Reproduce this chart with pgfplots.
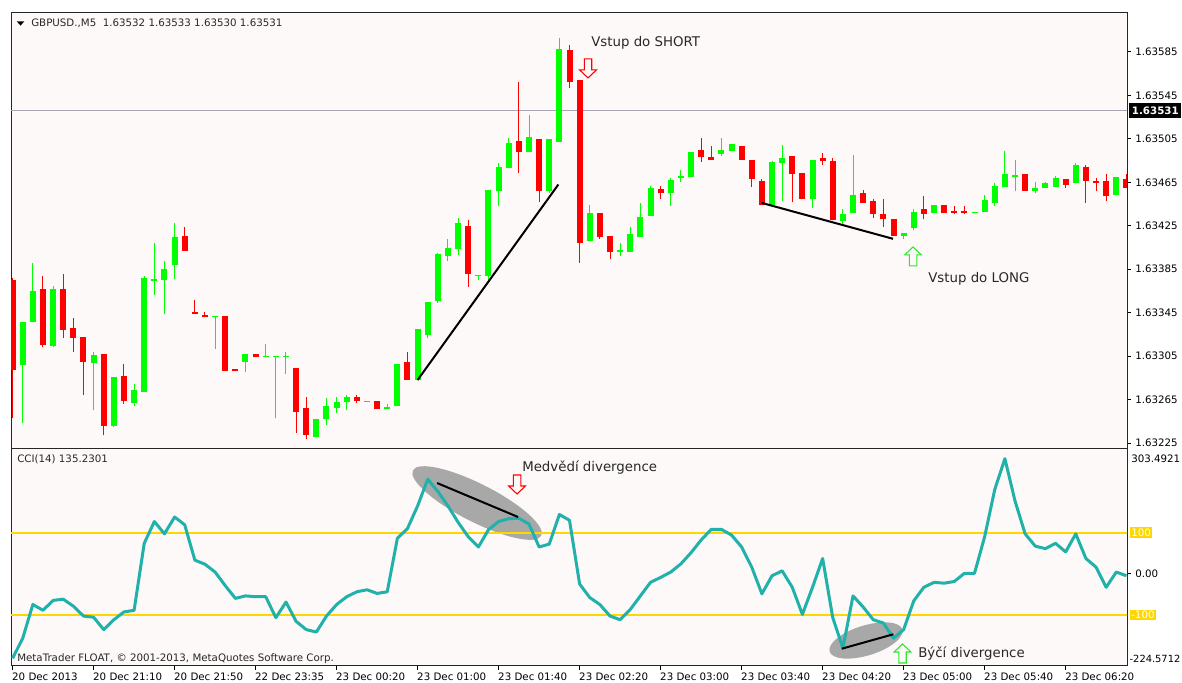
\documentclass[border=0pt]{standalone}
\usepackage{pgfplots}
\pgfplotsset{compat=1.18}
\usepackage{pgfplotstable}
\usepackage{fontspec}
\setmainfont{DejaVu Sans}
\definecolor{bg}{RGB}{253,249,248}
\definecolor{bull}{RGB}{0,255,0}
\definecolor{bear}{RGB}{255,0,0}
\definecolor{ccic}{RGB}{32,178,170}
\definecolor{lvl}{RGB}{255,215,0}
\definecolor{bid}{RGB}{165,165,180}
\definecolor{ell}{RGB}{168,168,168}
\definecolor{upg}{RGB}{40,235,40}
\definecolor{txt}{RGB}{40,40,40}
\newcommand{\uifont}{\fontsize{7.7pt}{9pt}\selectfont}
\newcommand{\comicfont}{\fontsize{10pt}{12pt}\selectfont}
\newcommand{\dnarrow}[3]{\draw[#1, line width=0.8pt] (axis cs:#2,#3) -- ++(-6.3pt,6pt) -- ++(3.5pt,0pt) -- ++(0pt,8.25pt) -- ++(5.6pt,0pt) -- ++(0pt,-8.25pt) -- ++(3.5pt,0pt) -- cycle;}
\newcommand{\uparr}[3]{\draw[#1, line width=0.8pt] (axis cs:#2,#3) -- ++(-6.3pt,-6pt) -- ++(3.5pt,0pt) -- ++(0pt,-8.25pt) -- ++(5.6pt,0pt) -- ++(0pt,8.25pt) -- ++(3.5pt,0pt) -- cycle;}

% prices in units of 0.00001 above 1.63000
\pgfplotstableread{
i o h l c
1 297 336 243 336
2 336 391 336 365
4 314 370 313 367
8 299 309 255 306
10 241 286 240 286
12 262 279 259 274
13 272 379 272 377
14 374 409 361 376
15 375 393 344 385
16 389 428 376 415
20 341 342 312 342
23 300 307 290 307
25 304 316 304 305
26 304 305 248 305
27 304 309 289 305
30 231 247 231 247
31 247 266 242 259
32 257 267 253 263
33 263 269 255 267
35 263 264 263 264
37 256 261 256 258
38 259 298 259 298
40 283 330 283 330
41 324 355 322 355
42 356 400 354 399
43 397 413 393 405
44 404 432 398 428
46 379 380 375 380
47 379 458 375 458
48 457 483 443 479
49 478 506 478 501
51 493 527 493 507
53 457 505 455 505
54 502 598 502 588
57 411 444 411 437
60 401 409 397 403
61 401 424 401 417
62 415 446 415 433
63 434 462 434 460
65 455 469 443 467
66 469 476 465 471
67 470 493 470 493
70 491 506 489 495
71 494 500 494 500
75 444 485 444 484
76 483 499 448 487
79 450 486 441 486
82 429 440 427 436
83 437 490 437 453
88 416 418 413 418
89 423 440 421 438
91 437 444 437 444
95 437 438 437 438
96 438 453 438 449
97 446 464 443 462
98 461 494 461 473
99 470 486 457 472
101 457 465 455 460
102 460 465 460 464
103 461 471 461 469
105 464 483 464 481
109 453 470 453 470
}\bulltab

\pgfplotstableread{
i o h l c
0 375 377 248 292
3 367 379 313 315
5 367 381 322 329
6 331 340 309 322
7 323 323 269 300
9 307 307 232 241
11 287 298 261 264
17 416 424 402 402
18 346 357 344 344
19 343 346 341 341
21 342 342 291 291
22 293 293 291 291
24 307 307 304 304
28 294 294 234 254
29 257 267 229 232
34 267 269 262 264
36 264 264 256 256
39 300 309 283 283
45 425 430 369 381
50 503 557 474 493
52 505 505 447 457
55 587 591 552 557
56 559 559 391 409
58 437 437 413 415
59 416 416 394 401
64 459 462 450 455
68 495 506 484 488
69 488 498 486 486
72 498 498 486 486
73 486 486 461 468
74 466 468 444 444
77 489 489 447 473
78 474 474 450 450
80 487 492 481 485
81 485 487 430 430
84 455 458 446 446
85 448 450 432 436
86 436 450 424 431
87 431 431 416 416
90 440 452 431 436
92 444 444 437 437
93 439 443 436 437
94 439 443 436 437
100 473 473 457 457
104 468 468 460 463
106 479 481 446 466
107 466 469 457 464
108 466 473 448 452
110 468 473 460 460
}\beartab

\pgfplotstableread{
i v
0 -206
1 -157
2 -75
3 -89
4 -65
5 -62
6 -79
7 -103
8 -106
9 -136
10 -112
11 -93
12 -89
13 74
14 127
15 97
16 138
17 119
18 33
19 23
20 4
21 -29
22 -60
23 -54
24 -56
25 -56
26 -107
27 -69
28 -116
29 -136
30 -142
31 -103
32 -75
33 -56
34 -44
35 -39
36 -48
37 -44
38 86
39 110
40 165
41 230
42 200
43 165
44 125
45 90
46 65
47 107
48 127
49 134
50 135
51 121
52 65
53 72
54 144
55 130
56 -25
57 -58
58 -75
59 -103
60 -112
61 -87
62 -54
63 -21
64 -9
65 4
66 24
67 51
68 82
69 108
70 108
71 94
72 65
73 16
74 -49
75 -5
76 7
77 -33
78 -99
79 -33
80 37
81 -107
82 -181
83 -54
84 -81
85 -112
86 -120
87 -157
88 -136
89 -66
90 -33
91 -21
92 -23
93 -19
94 1
95 1
96 90
97 205
98 280
99 177
100 97
101 67
102 61
103 74
104 53
105 97
106 37
107 16
108 -33
109 4
110 -5
}\ccitab

\pgfplotsset{
  mtframe/.style={
    scale only axis, width=837pt,
    xmin=-0.158, xmax=110.06,
    clip mode=individual,
    axis background/.style={fill=bg},
    axis line style={black!85, line width=0.75pt},
    tick align=outside, major tick length=3pt,
    tick style={black, line width=0.75pt},
    ytick pos=right, yticklabel pos=right,
    yticklabel style={font=\uifont, anchor=west, inner sep=0pt, xshift=3pt},
  },
  wick/.style={only marks, mark=*, mark size=0pt, mark options={draw=none, fill=none}, forget plot,
    error bars/.cd, y dir=plus, y explicit, error mark=none,
    error bar style={line width=0.75pt, draw=#1}},
  body/.style={only marks, mark=*, mark size=0pt, mark options={draw=none, fill=none}, forget plot,
    error bars/.cd, y dir=plus, y explicit, error mark=none,
    error bar style={line width=4.5pt, draw=#1}},
}

\begin{document}
\begin{tikzpicture}[x=0.75pt,y=0.75pt]

% ---------------- price panel ----------------
\begin{axis}[mtframe, name=top, at={(0,0)}, anchor=south west, height=327pt,
  ymin=219.5, ymax=620.9,
  xtick=\empty,
  ytick={225,265,305,345,385,425,465,505,545,585},
  yticklabels={1.63225,1.63265,1.63305,1.63345,1.63385,1.63425,1.63465,1.63505,1.63545,1.63585},
]
\addplot[bid, line width=0.9pt, forget plot] coordinates {(-1,531) (112,531)};
\addplot[wick=bull] table[x=i, y=l, y error plus expr=\thisrow{h}-\thisrow{l}] {\bulltab};
\addplot[wick=bear] table[x=i, y=l, y error plus expr=\thisrow{h}-\thisrow{l}] {\beartab};
\addplot[body=bull] table[x=i, y=o, y error plus expr=\thisrow{c}-\thisrow{o}] {\bulltab};
\addplot[body=bear] table[x=i, y=c, y error plus expr=\thisrow{o}-\thisrow{c}] {\beartab};
% trend lines
\addplot[black, line width=1.5pt, forget plot] coordinates {(40,283) (53.9,463)};
\addplot[black, line width=1.5pt, forget plot] coordinates {(74,446) (86.95,413)};
% arrows
\dnarrow{bear}{56.83}{561.1}
\uparr{upg}{88.93}{405.5}
% texts
\node[anchor=base west, inner sep=0pt, font=\comicfont, text=txt] at (axis cs:57.13,589.6) {Vstup do SHORT};
\node[anchor=base west, inner sep=0pt, font=\comicfont, text=txt] at (axis cs:90.41,373.2) {Vstup do LONG};
% header
\fill[black] ([xshift=4.3pt,yshift=-6.2pt]rel axis cs:0,1) -- ++(5.7pt,0pt) -- ++(-2.85pt,-3.3pt) -- cycle;
\node[anchor=base west, inner sep=0pt, font=\uifont, text=txt] at ([xshift=15pt,yshift=-10.5pt]rel axis cs:0,1) {GBPUSD.,M5\ \ 1.63532 1.63533 1.63530 1.63531};
% bid label
\node[anchor=west, fill=black, text=white, font=\uifont\bfseries, inner xsep=2pt, minimum height=11pt, inner ysep=0pt] at ([xshift=1.5pt]axis cs:110.06,531) {1.63531};
\end{axis}

% ---------------- CCI panel ----------------
\begin{axis}[mtframe, name=cci, at={([yshift=-2.25pt]top.south west)}, anchor=north west, height=162.75pt,
  ymin=-224.5712, ymax=303.4921,
  xtick={0,8,16,24,32,40,48,56,64,72,80,88,96,104},
  xticklabels={20 Dec 2013,20 Dec 21:10,20 Dec 21:50,22 Dec 23:35,23 Dec 00:20,23 Dec 01:00,23 Dec 01:40,23 Dec 02:20,23 Dec 03:00,23 Dec 03:40,23 Dec 04:20,23 Dec 05:00,23 Dec 05:40,23 Dec 06:20},
  xtick pos=bottom,
  xticklabel style={font=\uifont, anchor=north west, inner sep=0pt, yshift=-2.2pt, xshift=-0.5pt},
  ytick={0}, yticklabels={0.00},
]
\fill[ell] (axis cs:45.87,172) ellipse [x radius=54pt, y radius=14.25pt, rotate=-27];
\fill[ell] (axis cs:84.28,-162.5) ellipse [x radius=28.5pt, y radius=11.25pt, rotate=17];
\addplot[lvl, line width=1.5pt, forget plot] coordinates {(-1,100) (112,100)};
\addplot[lvl, line width=1.5pt, forget plot] coordinates {(-1,-100) (112,-100)};
\addplot[ccic, line width=2.25pt, line join=round, forget plot] table[x=i, y=v] {\ccitab};
\addplot[black, line width=1.5pt, forget plot] coordinates {(41.92,220.7) (49.92,138)};
\addplot[black, line width=1.5pt, forget plot] coordinates {(81.89,-182.5) (86.98,-147.4)};
\dnarrow{bear}{49.82}{194}
\uparr{upg}{87.89}{-171}
\node[anchor=base west, inner sep=0pt, font=\comicfont, text=txt] at (axis cs:50.31,249.9) {Medvědí divergence};
\node[anchor=base west, inner sep=0pt, font=\comicfont, text=txt] at (axis cs:89.42,-205) {Býčí divergence};
\node[anchor=base west, inner sep=0pt, font=\uifont, text=txt] at ([xshift=4.5pt,yshift=-10.5pt]rel axis cs:0,1) {CCI(14) 135.2301};
\node[anchor=base west, inner sep=0pt, font=\uifont, text=txt] at ([xshift=4.5pt,yshift=3.5pt]rel axis cs:0,0) {MetaTrader FLOAT, © 2001-2013, MetaQuotes Software Corp.};
\node[anchor=west, inner sep=0pt, font=\uifont] at ([xshift=3pt,yshift=-7.3pt]rel axis cs:1,1) {303.4921};
\node[anchor=west, inner sep=0pt, font=\fontsize{7.4pt}{9pt}\selectfont] at ([xshift=1.8pt,yshift=5.5pt]rel axis cs:1,0) {-224.5712};
\node[anchor=west, fill=lvl, text=white, font=\uifont, inner xsep=1pt, inner ysep=1pt] at ([xshift=2pt]axis cs:110.06,100) {100};
\node[anchor=west, fill=lvl, text=white, font=\uifont, inner xsep=1pt, inner ysep=1pt] at ([xshift=2pt]axis cs:110.06,-100) {-100};
\end{axis}
\pgfresetboundingbox
\useasboundingbox ([shift={(-11,-17)}]cci.south west) rectangle ([shift={(55,13)}]top.north east);
\end{tikzpicture}
\end{document}
